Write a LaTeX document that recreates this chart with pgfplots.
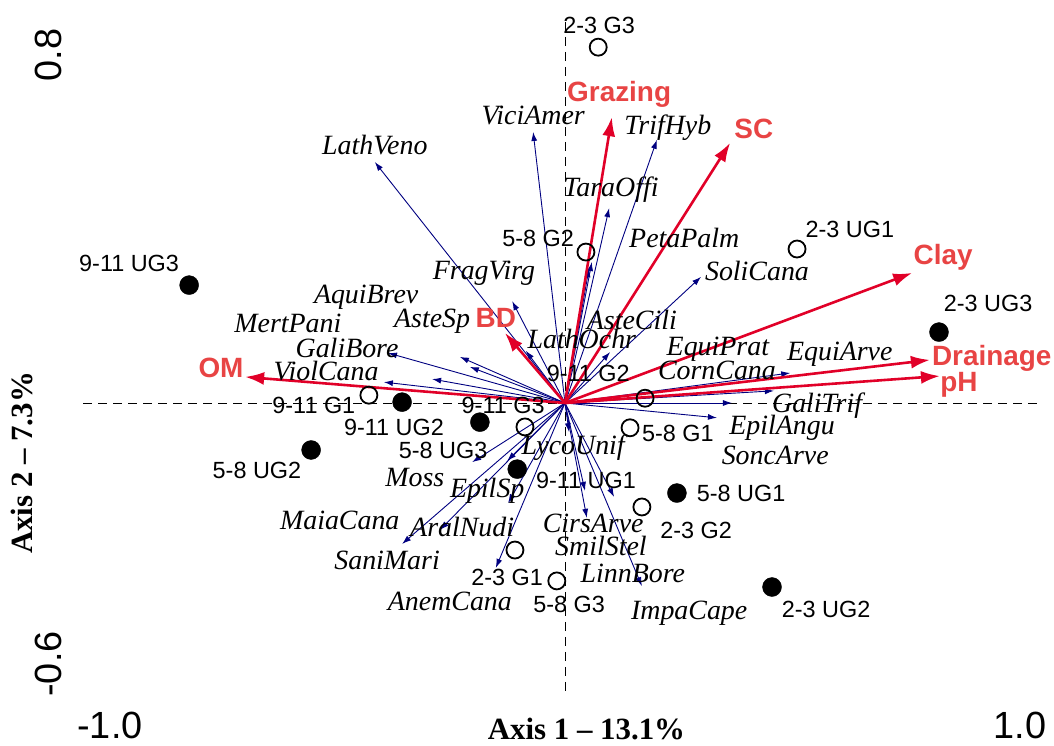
\documentclass[border=0pt]{standalone}
\usepackage{pgfplots}
\pgfplotsset{compat=1.18}
\usepackage{pgfplotstable}
\usepackage{fontspec}
\setmainfont{Liberation Serif}
\newfontfamily\arial{Liberation Sans}
\usetikzlibrary{arrows.meta}

\definecolor{spblue}{RGB}{0,0,128}
\definecolor{envred}{RGB}{225,0,40}
\definecolor{envtxt}{RGB}{232,68,68}

\newcommand\spf{\fontsize{28}{28}\selectfont\itshape}
\newcommand\stf{\arial\fontsize{23.5}{23.5}\selectfont}
\newcommand\enf{\arial\bfseries\fontsize{28}{28}\selectfont}

% species scores (arrow tips)
\pgfplotstableread{
x y u v
0 0 -0.418 0.554
0 0 -0.070 0.623
0 0 0.202 0.605
0 0 0.097 0.448
0 0 0.059 0.324
0 0 0.053 0.310
0 0 0.299 0.290
0 0 -0.116 0.234
0 0 -0.086 0.120
0 0 -0.231 0.106
0 0 -0.209 0.083
0 0 -0.292 0.055
0 0 -0.389 0.115
0 0 -0.398 0.048
0 0 0.099 0.117
0 0 0.495 0.069
0 0 0.459 0.028
0 0 0.367 0.000
0 0 0.334 -0.034
0 0 0.009 -0.067
0 0 -0.204 -0.136
0 0 -0.127 -0.133
0 0 -0.125 -0.230
0 0 -0.358 -0.324
0 0 -0.275 -0.292
0 0 -0.152 -0.379
0 0 0.044 -0.202
0 0 0.048 -0.264
0 0 0.108 -0.216
0 0 0.169 -0.421
}\species

% environmental vectors
\pgfplotstableread{
x y u v
0 0 0.103 0.657
0 0 0.363 0.598
0 0 0.763 0.299
0 0 0.802 0.099
0 0 0.824 0.062
0 0 -0.703 0.060
0 0 -0.132 0.161
}\envvec

\begin{document}
\begin{tikzpicture}
\begin{axis}[
  x=455bp, y=435bp,
  anchor=origin, at={(0,0)},
  xmin=-1.059, xmax=1.044, ymin=-0.667, ymax=0.876,
  clip=false,
  axis line style={draw=none},
  major tick length=0pt,
  xtick={-1,1}, xticklabels={-1.0,1.0},
  ytick={-0.6,0.8}, yticklabels={-0.6,0.8},
  xticklabel style={font=\arial\fontsize{38}{38}\selectfont, inner sep=0pt, anchor=north},
  yticklabel style={font=\arial\fontsize{38}{38}\selectfont, inner sep=0pt, rotate=90, anchor=south},
  xticklabel shift=19bp,
  yticklabel shift=21bp,
  xlabel={Axis 1 \textendash{} 13.1\%},
  ylabel={Axis 2 \textendash{} 7.3\%},
  xlabel style={font=\bfseries\fontsize{31}{31}\selectfont, at={(axis description cs:0.526,-0.053)}, anchor=center, inner sep=0pt},
  ylabel style={font=\bfseries\fontsize{31}{31}\selectfont, at={(axis description cs:-0.064,0.343)}, anchor=center, rotate=0, inner sep=0pt},
]
% reference lines through the origin
\addplot[black, line width=0.9bp, dash pattern=on 9bp off 6bp] coordinates {(-1.059,0) (1.044,0)};
\addplot[black, line width=0.9bp, dash pattern=on 9bp off 6bp] coordinates {(0,0.876) (0,-0.667)};

% species arrows
\addplot[spblue, line width=0.9bp, -{Latex[length=9bp,width=6bp]},
  quiver={u=\thisrow{u}, v=\thisrow{v}}] table[x=x, y=y] {\species};

% environmental arrows
\addplot[envred, line width=2.6bp, -{Latex[length=19bp,width=13bp]},
  quiver={u=\thisrow{u}, v=\thisrow{v}}] table[x=x, y=y] {\envvec};

% sites: grazed (open) and ungrazed (filled)
\addplot[only marks, mark=o, mark size=8.5bp, mark options={black, line width=1.8bp}]
  coordinates {(0.073,0.818) (0.046,0.347) (0.510,0.354) (0.176,0.011) (-0.431,0.018)
               (-0.088,-0.055) (0.143,-0.057) (0.169,-0.239) (-0.110,-0.338) (-0.018,-0.409)};
\addplot[only marks, mark=*, mark size=9.5bp, mark options={draw=none, fill=black}]
  coordinates {(-0.826,0.271) (0.822,0.163) (-0.358,0.002) (-0.558,-0.108)
               (-0.187,-0.044) (-0.105,-0.152) (0.246,-0.207) (0.455,-0.423)};

% environmental labels
\begin{scope}[every node/.style={font=\enf, text=envtxt, inner sep=0pt}]
\node at (axis cs:0.119,0.710) {Grazing};
\node at (axis cs:0.415,0.630) {SC};
\node at (axis cs:0.831,0.336) {Clay};
\node at (axis cs:0.938,0.103) {Drainage};
\node at (axis cs:0.866,0.041) {pH};
\node at (axis cs:-0.756,0.080) {OM};
\node at (axis cs:-0.152,0.195) {BD};
\end{scope}

% site labels
\begin{scope}[every node/.style={font=\stf, inner sep=0pt}]
\node at (axis cs:0.075,0.869) {2-3 G3};
\node at (axis cs:-0.059,0.379) {5-8 G2};
\node at (axis cs:0.626,0.398) {2-3 UG1};
\node at (axis cs:0.051,0.067) {9-11 G2};
\node at (axis cs:-0.552,-0.005) {9-11 G1};
\node at (axis cs:-0.136,-0.005) {9-11 G3};
\node at (axis cs:0.248,-0.071) {5-8 G1};
\node at (axis cs:0.288,-0.294) {2-3 G2};
\node at (axis cs:-0.127,-0.400) {2-3 G1};
\node at (axis cs:0.009,-0.464) {5-8 G3};
\node at (axis cs:-0.958,0.320) {9-11 UG3};
\node at (axis cs:0.930,0.230) {2-3 UG3};
\node at (axis cs:-0.376,-0.057) {9-11 UG2};
\node at (axis cs:-0.677,-0.156) {5-8 UG2};
\node at (axis cs:-0.268,-0.110) {5-8 UG3};
\node at (axis cs:0.046,-0.179) {9-11 UG1};
\node at (axis cs:0.387,-0.207) {5-8 UG1};
\node at (axis cs:0.574,-0.474) {2-3 UG2};
\end{scope}

% species labels
\begin{scope}[every node/.style={font=\spf, inner sep=0pt}]
\node at (axis cs:-0.418,0.593) {LathVeno};
\node at (axis cs:-0.070,0.662) {ViciAmer};
\node at (axis cs:0.226,0.632) {TrifHyb};
\node at (axis cs:0.101,0.490) {TaraOffi};
\node at (axis cs:0.262,0.379) {PetaPalm};
\node at (axis cs:0.422,0.303) {SoliCana};
\node at (axis cs:-0.178,0.299) {FragVirg};
\node at (axis cs:-0.437,0.244) {AquiBrev};
\node at (axis cs:-0.609,0.184) {MertPani};
\node at (axis cs:-0.292,0.189) {AsteSp};
\node at (axis cs:0.037,0.147) {LathOchr};
\node at (axis cs:0.147,0.191) {AsteCili};
\node at (axis cs:-0.479,0.126) {GaliBore};
\node at (axis cs:-0.525,0.074) {ViolCana};
\node at (axis cs:0.336,0.124) {EquiPrat};
\node at (axis cs:0.334,0.074) {CornCana};
\node at (axis cs:0.604,0.113) {EquiArve};
\node at (axis cs:0.554,-0.005) {GaliTrif};
\node at (axis cs:0.477,-0.057) {EpilAngu};
\node at (axis cs:0.462,-0.120) {SoncArve};
\node at (axis cs:0.018,-0.103) {LycoUnif};
\node at (axis cs:-0.330,-0.172) {Moss};
\node at (axis cs:-0.171,-0.202) {EpilSp};
\node at (axis cs:-0.495,-0.271) {MaiaCana};
\node at (axis cs:-0.226,-0.285) {AralNudi};
\node at (axis cs:-0.391,-0.363) {SaniMari};
\node at (axis cs:0.062,-0.276) {CirsArve};
\node at (axis cs:0.079,-0.329) {SmilStel};
\node at (axis cs:0.149,-0.391) {LinnBore};
\node at (axis cs:-0.253,-0.455) {AnemCana};
\node at (axis cs:0.273,-0.483) {ImpaCape};
\end{scope}
\end{axis}
\pgfresetboundingbox
\useasboundingbox (-565bp,-343bp) rectangle (489bp,403bp);
\end{tikzpicture}
\end{document}
